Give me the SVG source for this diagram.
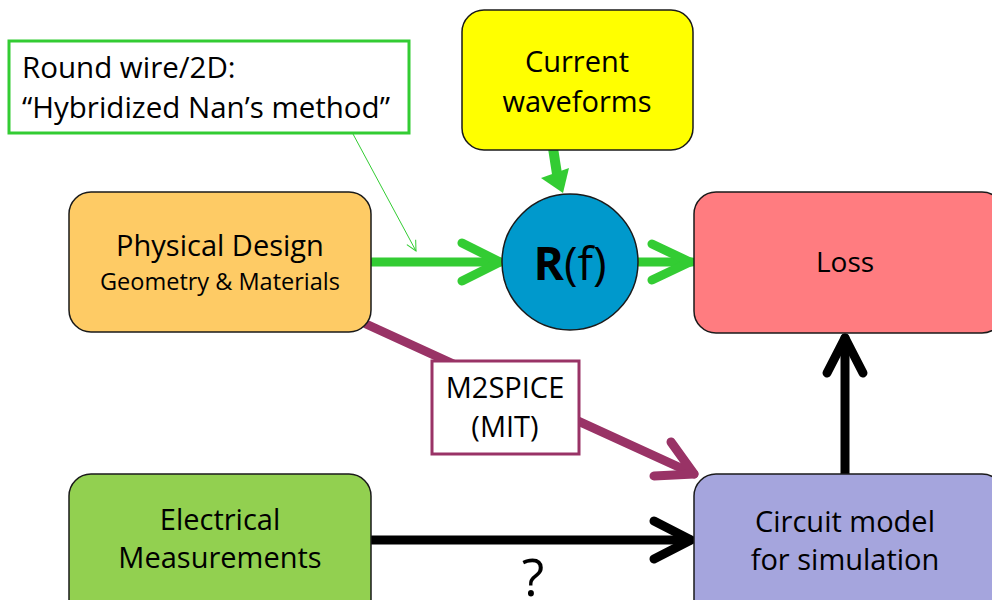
<svg xmlns="http://www.w3.org/2000/svg" width="992" height="600" viewBox="0 0 992 600">
  <defs>
    <style>
      .box { stroke: #1a1a1a; stroke-width: 1.5; }
      .lbl { font-family: "Open Sans", "Noto Sans", sans-serif; fill: #000; text-anchor: middle; }
      .big { font-size: 29px; }
      .sub { font-size: 23.5px; }
      .green { stroke: #33CC33; fill: none; stroke-linecap: round; stroke-linejoin: round; }
      .black { stroke: #000; fill: none; stroke-linecap: round; stroke-linejoin: round; }
      .plum { stroke: #993366; fill: none; stroke-linecap: round; stroke-linejoin: round; }
    </style>
    <marker id="thinHead" viewBox="0 0 12 12" refX="11" refY="6" markerWidth="12" markerHeight="12" markerUnits="userSpaceOnUse" orient="auto">
      <path d="M1,1 L11,6 L1,11" fill="none" stroke="#33CC33" stroke-width="1"/>
    </marker>
  </defs>

  <rect width="992" height="600" fill="#fff"/>

  <!-- connectors -->
  <g id="connectors">
    <!-- callout pointer -->
    <line x1="353" y1="134" x2="416" y2="251" stroke="#33CC33" stroke-width="1" marker-end="url(#thinHead)"/>
    <!-- Physical Design -> R(f) -->
    <path class="green" stroke-width="9" d="M372,262 H500"/>
    <path class="green" stroke-width="9" d="M462,243 L500,262 L462,281"/>
    <!-- R(f) -> Loss -->
    <path class="green" stroke-width="9" d="M638,262 H692"/>
    <path class="green" stroke-width="9" d="M652,244 L690,262 L652,280"/>
    <!-- Current waveforms -> R(f) -->
    <path stroke="#33CC33" stroke-width="10" fill="none" d="M553,148 L557,174"/>
    <polygon fill="#33CC33" points="541,178 569,168 563,193"/>
    <!-- Physical Design -> Circuit model (M2SPICE) -->
    <path class="plum" stroke-width="9" d="M366,324 L694,474"/>
    <path class="plum" stroke-width="9" d="M671,442 L694,474 L654,476"/>
    <!-- Electrical Measurements -> Circuit model -->
    <path class="black" stroke-width="9" d="M372,540 H690"/>
    <path class="black" stroke-width="9" d="M654,521 L691,540 L654,559"/>
    <!-- Circuit model -> Loss -->
    <path class="black" stroke-width="9" d="M845,474 V338"/>
    <path class="black" stroke-width="9" d="M827,373 L845,338 L863,373"/>
  </g>

  <g id="callout">
    <rect x="9" y="41" width="400" height="92" fill="#fff" stroke="#33CC33" stroke-width="3"/>
    <text class="lbl" x="22" y="78" style="text-anchor:start;font-size:29.5px">Round wire/2D:</text>
    <text class="lbl" x="22" y="118" style="text-anchor:start;font-size:29.5px">“Hybridized Nan’s method”</text>
  </g>

  <g id="physical-design">
    <rect class="box" x="69" y="192" width="302" height="140" rx="22" fill="#FECB65"/>
    <text class="lbl big" x="220" y="256">Physical Design</text>
    <text class="lbl sub" x="220" y="290">Geometry &amp; Materials</text>
  </g>

  <g id="current-waveforms">
    <rect class="box" x="462" y="10" width="231" height="140" rx="22" fill="#FFFF00"/>
    <text class="lbl big" x="577" y="72">Current</text>
    <text class="lbl big" x="577" y="112">waveforms</text>
  </g>

  <g id="resistance">
    <circle class="box" cx="570" cy="262" r="68" fill="#0099CC"/>
    <text class="lbl" x="570" y="280" style="font-size:46px"><tspan font-weight="bold">R</tspan>(f)</text>
  </g>

  <g id="loss">
    <rect class="box" x="694" y="192" width="310" height="141" rx="22" fill="#FF7C80"/>
    <text class="lbl" x="845" y="272" style="font-size:28px">Loss</text>
  </g>

  <g id="m2spice">
    <rect x="432" y="361" width="147" height="93" fill="#fff" stroke="#993366" stroke-width="3"/>
    <text class="lbl big" x="505" y="398">M2SPICE</text>
    <text class="lbl big" x="505" y="437">(MIT)</text>
  </g>

  <g id="electrical-measurements">
    <rect class="box" x="69" y="474" width="302" height="150" rx="22" fill="#92D050"/>
    <text class="lbl big" x="220" y="530">Electrical</text>
    <text class="lbl big" x="220" y="568">Measurements</text>
  </g>

  <g id="circuit-model">
    <rect class="box" x="694" y="474" width="310" height="150" rx="22" fill="#A5A5DD"/>
    <text class="lbl big" x="845" y="532">Circuit model</text>
    <text class="lbl big" x="845" y="570">for simulation</text>
  </g>

  <text class="lbl" x="533" y="596" style="font-size:52px">?</text>
</svg>
